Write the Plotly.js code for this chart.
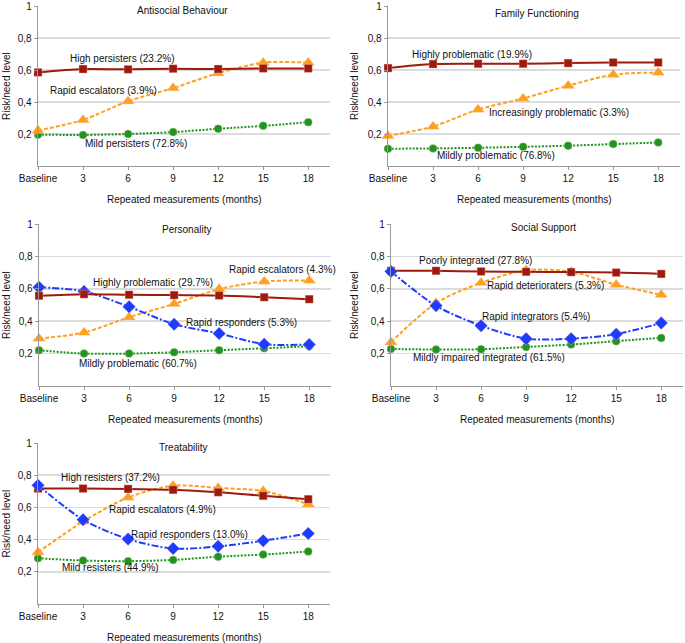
<!DOCTYPE html>
<html>
<head>
<meta charset="utf-8">
<script src="https://cdn.plot.ly/plotly-3.0.1.min.js"></script>
<style>html,body{margin:0;padding:0;background:#fff}#chart{width:685px;height:643px}</style>
</head>
<body>
<div id="chart"></div>
<script>
// ---- data ----
var months = [0, 3, 6, 9, 12, 15, 18];
var monthLabels = ["Baseline", "3", "6", "9", "12", "15", "18"];
var yTickVals = [0.2, 0.4, 0.6, 0.8, 1];
var yTickText = ["0,2", "0,4", "0,6", "0,8", "1"];

var panelTitles = ["Antisocial Behaviour", "Family Functioning", "Personality", "Social Support", "Treatability"];

// Antisocial Behaviour
var asbHigh = [0.585, 0.606, 0.604, 0.608, 0.606, 0.610, 0.610];
var asbRapid = [0.222, 0.288, 0.405, 0.487, 0.580, 0.646, 0.646];
var asbMild = [0.196, 0.194, 0.200, 0.212, 0.233, 0.251, 0.274];
// Family Functioning
var ffHigh = [0.612, 0.637, 0.639, 0.639, 0.643, 0.647, 0.647];
var ffIncr = [0.188, 0.247, 0.353, 0.422, 0.502, 0.571, 0.584];
var ffMild = [0.108, 0.110, 0.114, 0.120, 0.127, 0.137, 0.147];
// Personality
var perHigh = [0.557, 0.567, 0.563, 0.561, 0.559, 0.548, 0.536];
var perEsc = [0.293, 0.330, 0.425, 0.507, 0.598, 0.645, 0.652];
var perResp = [0.610, 0.584, 0.489, 0.381, 0.324, 0.258, 0.256];
var perMild = [0.221, 0.200, 0.200, 0.208, 0.221, 0.233, 0.245];
// Social Support
var ssPoor = [0.711, 0.711, 0.707, 0.705, 0.703, 0.700, 0.692];
var ssDet = [0.270, 0.512, 0.637, 0.715, 0.706, 0.625, 0.563];
var ssInt = [0.707, 0.495, 0.372, 0.292, 0.292, 0.320, 0.389];
var ssMild = [0.229, 0.225, 0.227, 0.241, 0.256, 0.277, 0.297];
// Treatability
var trHigh = [0.717, 0.717, 0.715, 0.709, 0.694, 0.672, 0.651];
var trEsc = [0.321, 0.512, 0.662, 0.735, 0.721, 0.702, 0.620];
var trResp = [0.737, 0.524, 0.403, 0.344, 0.358, 0.393, 0.438];
var trMild = [0.284, 0.270, 0.266, 0.274, 0.294, 0.307, 0.326];

// series labels
var asbLabels = ["High persisters (23.2%)", "Rapid escalators (3.9%)", "Mild persisters (72.8%)"];
var ffLabels = ["Highly problematic (19.9%)", "Increasingly problematic (3.3%)", "Mildly problematic (76.8%)"];
var perLabels = ["Rapid escalators (4.3%)", "Highly problematic (29.7%)", "Rapid responders (5.3%)", "Mildly problematic (60.7%)"];
var ssLabels = ["Poorly integrated (27.8%)", "Rapid deterioraters (5.3%)", "Rapid integrators (5.4%)", "Mildly impaired integrated (61.5%)"];
var trLabels = ["High resisters (37.2%)", "Rapid escalators (4.9%)", "Rapid responders (13.0%)", "Mild resisters (44.9%)"];

var xTitle = "Repeated measurements (months)";
var yTitle = "Risk/need level";

// ---- styles ----
var RED = "#9c1a0e", ORANGE = "#ffa01c", GREEN = "#1c961c", BLUE = "#1e3cff";
var styles = {
  red:    {color: RED, dash: "solid", symbol: "square", size: 8},
  orange: {color: ORANGE, dash: "4px,2px", symbol: "triangle-up", size: 11},
  green:  {color: GREEN, dash: "2px,1.5px", symbol: "circle", size: 8},
  blue:   {color: BLUE, dash: "7px,2px,2px,2px", symbol: "diamond", size: 10}
};

function tr(y, st, ax) {
  var s = styles[st];
  return {
    x: months, y: y, xaxis: "x" + ax, yaxis: "y" + ax,
    type: "scatter", mode: "lines+markers", showlegend: false, hoverinfo: "skip",
    line: {color: s.color, dash: s.dash, width: 2, shape: "spline", smoothing: 0.8},
    marker: {color: s.color, symbol: s.symbol, size: s.size, line: {width: 0.6, color: "rgba(255,200,200,0.6)"}},
    cliponaxis: false
  };
}

var traces = [
  tr(asbMild, "green", ""), tr(asbRapid, "orange", ""), tr(asbHigh, "red", ""),
  tr(ffMild, "green", "2"), tr(ffIncr, "orange", "2"), tr(ffHigh, "red", "2"),
  tr(perMild, "green", "3"), tr(perEsc, "orange", "3"), tr(perResp, "blue", "3"), tr(perHigh, "red", "3"),
  tr(ssMild, "green", "4"), tr(ssDet, "orange", "4"), tr(ssPoor, "red", "4"), tr(ssInt, "blue", "4"),
  tr(trMild, "green", "5"), tr(trEsc, "orange", "5"), tr(trHigh, "red", "5"), tr(trResp, "blue", "5")
];

var W = 685, H = 643;
// plot rectangles in pixels: [left, right, top, bottom]
var rects = [
  [38, 330, 6, 166],
  [388, 680, 6, 166],
  [39, 331, 224, 386],
  [391, 683, 224, 386],
  [38, 330, 443, 604]
];

var FONT = "Liberation Sans, Arial, Helvetica, sans-serif";
var layout = {
  width: W, height: H,
  margin: {l: 0, r: 0, t: 0, b: 0},
  paper_bgcolor: "#fff", plot_bgcolor: "#fff",
  font: {family: FONT, size: 10, color: "#111"},
  showlegend: false,
  annotations: []
};

rects.forEach(function(r, i) {
  var suf = i === 0 ? "" : String(i + 1);
  layout["xaxis" + suf] = {
    domain: [r[0] / W, r[1] / W], anchor: "y" + suf,
    range: [0, 19.45], tickvals: months, ticktext: monthLabels,
    showgrid: false, zeroline: false, showline: true, linecolor: "#999", linewidth: 1.3,
    ticks: "outside", ticklen: 3, tickcolor: "#999", tickfont: {size: 10, color: "#111"}, fixedrange: true
  };
  layout["yaxis" + suf] = {
    domain: [1 - r[3] / H, 1 - r[2] / H], anchor: "x" + suf,
    range: [0, 1], tickvals: yTickVals, ticktext: yTickText,
    showgrid: true, gridcolor: "#dcdcdc", gridwidth: 1.5, zeroline: false,
    showline: true, linecolor: "#999", linewidth: 1.3,
    ticks: "outside", ticklen: 3, tickcolor: "#999", tickfont: {size: 10, color: "#111"}, fixedrange: true
  };
  // axis titles
  layout.annotations.push({
    xref: "paper", yref: "paper", x: (r[0] + r[1]) / 2 / W, y: 1 - (r[3] + 33) / H,
    text: xTitle, showarrow: false, xanchor: "center", yanchor: "middle", font: {size: 10, color: "#111"}
  });
  layout.annotations.push({
    xref: "paper", yref: "paper", x: (i % 2 === 0 ? 6 : 354) / W, y: 1 - (r[2] + r[3]) / 2 / H,
    text: yTitle, textangle: -90, showarrow: false, xanchor: "center", yanchor: "middle", font: {size: 10, color: "#111"}
  });
});

function lab(ax, x, y, text) {
  layout.annotations.push({xref: "x" + ax, yref: "y" + ax, x: x, y: y, text: text, showarrow: false,
    xanchor: "center", yanchor: "middle", font: {size: 10, color: "#111"}});
}
// panel titles
lab("", 9.6, 0.975, panelTitles[0]);
lab("2", 9.93, 0.951, panelTitles[1]);
lab("3", 9.8, 0.969, panelTitles[2]);
lab("4", 10.13, 0.981, panelTitles[3]);
lab("5", 9.67, 0.969, panelTitles[4]);
// series labels
lab("", 5.6, 0.669, asbLabels[0]);
lab("", 4.33, 0.472, asbLabels[1]);
lab("", 6.53, 0.141, asbLabels[2]);
lab("2", 5.6, 0.699, ffLabels[0]);
lab("2", 11.4, 0.337, ffLabels[1]);
lab("2", 7.2, 0.067, ffLabels[2]);
lab("3", 16.2, 0.722, perLabels[0]);
lab("3", 7.6, 0.642, perLabels[1]);
lab("3", 13.47, 0.395, perLabels[2]);
lab("3", 6.6, 0.142, perLabels[3]);
lab("4", 5.6, 0.772, ssLabels[0]);
lab("4", 10.27, 0.623, ssLabels[1]);
lab("4", 9.67, 0.426, ssLabels[2]);
lab("4", 6.53, 0.179, ssLabels[3]);
lab("5", 4.8, 0.783, trLabels[0]);
lab("5", 8.27, 0.584, trLabels[1]);
lab("5", 10.07, 0.429, trLabels[2]);
lab("5", 4.8, 0.224, trLabels[3]);

Plotly.newPlot("chart", traces, layout, {displayModeBar: false, staticPlot: true});
</script>
</body>
</html>
